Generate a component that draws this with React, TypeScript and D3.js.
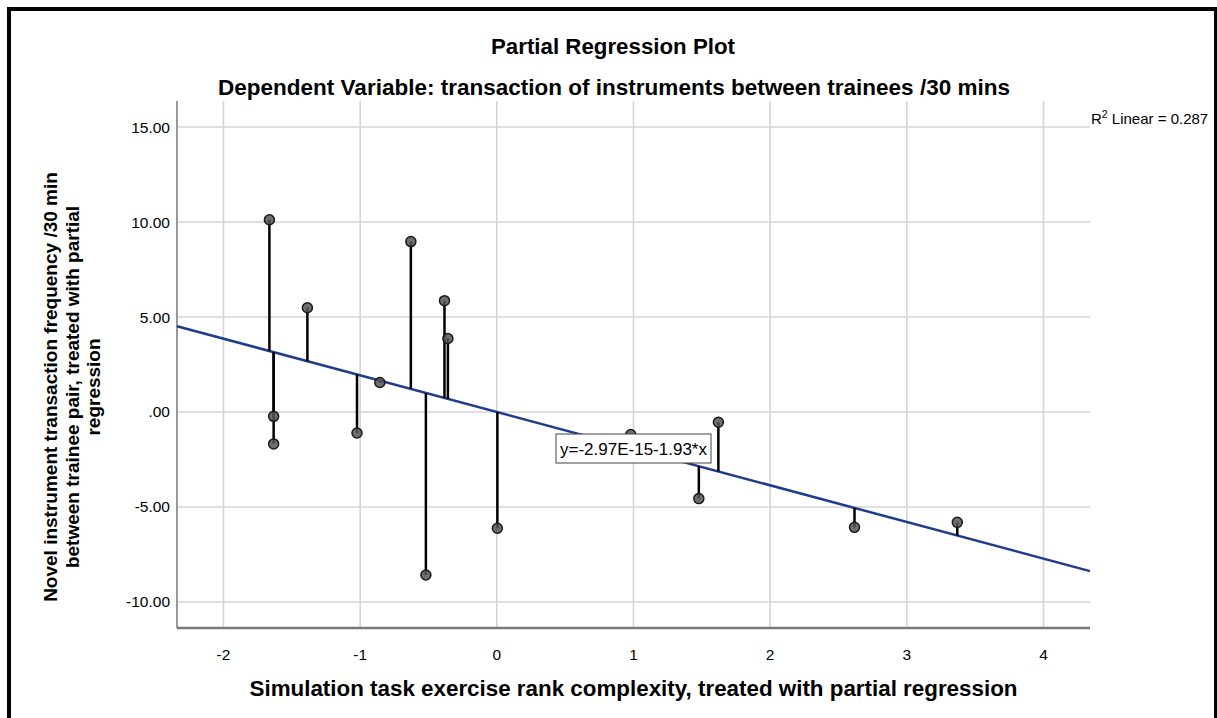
import React from "react";
import * as d3 from "d3";

// ---- data ----
const pointX: number[] = [-1.664, -1.386, -1.633, -1.633, -1.023, -0.856, -0.629, -0.519, -0.383, -0.358, 0.004, 0.98, 1.478, 1.621, 2.617, 3.369];
const pointY: number[] = [10.12, 5.49, -0.23, -1.68, -1.105, 1.55, 8.97, -8.58, 5.86, 3.87, -6.12, -1.19, -4.56, -0.54, -6.07, -5.81];
const xTicks: number[] = [-2, -1, 0, 1, 2, 3, 4];
const yTicks: number[] = [15, 10, 5, 0, -5, -10];
const yTickLabels: string[] = ["15.00", "10.00", "5.00", ".00", "-5.00", "-10.00"];
const fitIntercept = -2.97e-15;
const fitSlope = -1.93;
const rSquared = "0.287";
const equationText = "y=-2.97E-15-1.93*x";
const titleText = "Partial Regression Plot";
const subtitleText = "Dependent Variable: transaction of instruments between trainees /30 mins";
const xTitle = "Simulation task exercise rank complexity, treated with partial regression";
const yTitleLines: string[] = [
  "Novel instrument transaction frequency /30 min",
  "between trainee pair, treated with partial",
  "regression",
];

const W = 1217;
const H = 718;
const plot = { left: 177, right: 1090, top: 101, bottom: 628 };
const FONT = "'Liberation Sans', Arial, sans-serif";

export default function App() {
  const x = d3.scaleLinear().domain([-2.34, 4.34]).range([plot.left, plot.right]);
  const y = d3.scaleLinear().domain([-11.37, 16.37]).range([plot.bottom, plot.top]);
  const fit = (v: number) => fitIntercept + fitSlope * v;
  const [x0, x1] = x.domain();
  const linePath = d3.line<number>().x((d) => x(d)).y((d) => y(fit(d)))([x0, x1]) || "";

  const eqX = 556;
  const eqY = 434;

  return (
    <svg width={W} height={H} style={{ position: "absolute", left: 0, top: 0, background: "#fff" }} fontFamily={FONT}>
      <rect x={0} y={0} width={W} height={H} fill="#fff" />
      {/* frame */}
      <rect x={9} y={9} width={1207} height={800} fill="none" stroke="#000" strokeWidth={4} />

      {/* titles */}
      <text x={613} y={54} textAnchor="middle" fontSize={22} fontWeight="bold" fill="#000" textLength={244} lengthAdjust="spacingAndGlyphs">{titleText}</text>
      <text x={614} y={95} textAnchor="middle" fontSize={22} fontWeight="bold" fill="#000" textLength={792} lengthAdjust="spacingAndGlyphs">{subtitleText}</text>

      {/* gridlines */}
      <g stroke="#d4d4d4" strokeWidth={1.6}>
        {xTicks.map((t) => (
          <line key={"gx" + t} x1={x(t)} x2={x(t)} y1={plot.top} y2={plot.bottom} />
        ))}
        {yTicks.map((t) => (
          <line key={"gy" + t} x1={plot.left} x2={plot.right} y1={y(t)} y2={y(t)} />
        ))}
      </g>

      {/* axes */}
      <line x1={plot.left} x2={plot.left} y1={plot.top} y2={plot.bottom} stroke="#999" strokeWidth={2} />
      <line x1={plot.left} x2={plot.right} y1={plot.bottom} y2={plot.bottom} stroke="#7a7a7a" strokeWidth={2.5} />

      {/* tick labels */}
      {yTicks.map((t, i) => (
        <text key={"yl" + t} x={170} y={y(t) + 5.5} textAnchor="end" fontSize={15.5} fill="#000">{yTickLabels[i]}</text>
      ))}
      {xTicks.map((t) => (
        <text key={"xl" + t} x={x(t)} y={660} textAnchor="middle" fontSize={15.5} fill="#000">{String(t)}</text>
      ))}

      {/* axis titles */}
      <text x={(plot.left + plot.right) / 2} y={696} textAnchor="middle" fontSize={22} fontWeight="bold" fill="#000" textLength={768} lengthAdjust="spacingAndGlyphs">{xTitle}</text>
      <g transform="translate(0,387) rotate(-90)">
        {yTitleLines.map((l, i) => (
          <text key={i} x={0} y={57 + i * 21.5} textAnchor="middle" fontSize={19} fontWeight="bold" fill="#000">{l}</text>
        ))}
      </g>

      {/* regression line */}
      <path d={linePath} stroke="#1f3c8c" strokeWidth={2.5} fill="none" />

      {/* residual stems */}
      <g stroke="#000" strokeWidth={2.5}>
        {pointX.map((px, i) => (
          <line key={"s" + i} x1={x(px)} x2={x(px)} y1={y(fit(px))} y2={y(pointY[i])} />
        ))}
      </g>

      {/* points */}
      <g>
        {pointX.map((px, i) => (
          <circle key={"p" + i} cx={x(px)} cy={y(pointY[i])} r={5} fill="#555" fillOpacity={0.85} stroke="#1a1a1a" strokeWidth={1.5} />
        ))}
      </g>

      {/* equation label */}
      <rect x={eqX} y={eqY} width={155} height={29} fill="#fff" stroke="#444" strokeWidth={1} />
      <text x={eqX + 4} y={eqY + 20.5} fontSize={17} fill="#000">{equationText}</text>

      {/* R2 label */}
      <text x={1091} y={124} fontSize={15} fill="#000">
        <tspan>R</tspan>
        <tspan dy={-6} fontSize={10.5}>2</tspan>
        <tspan dy={6}>{" Linear = " + rSquared}</tspan>
      </text>
    </svg>
  );
}
